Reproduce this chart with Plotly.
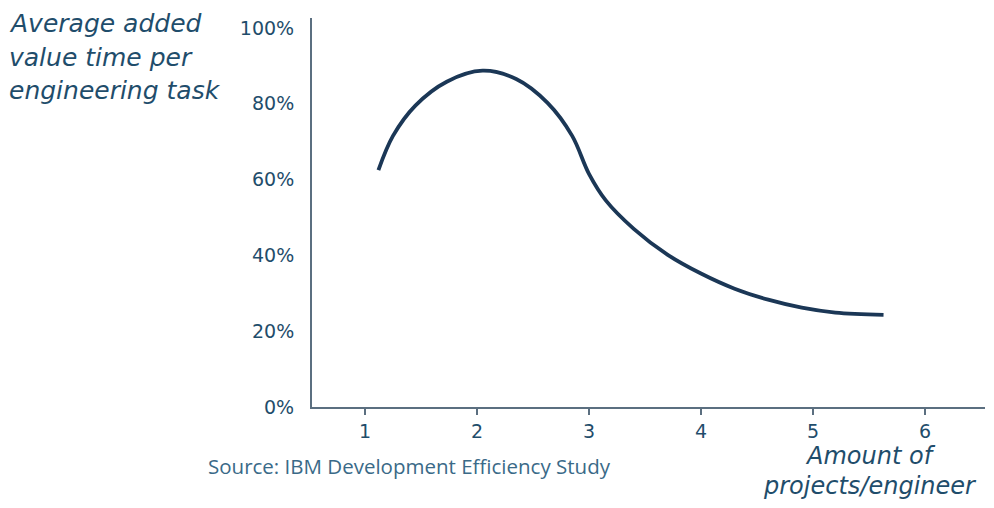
import plotly.graph_objects as go

# Data
projects = [1.12, 1.25, 1.45, 1.73, 2.05, 2.35, 2.63, 2.85, 3.00, 3.15, 3.40, 3.70,
            4.00, 4.30, 4.60, 4.90, 5.20, 5.63]
value_time = [62.5, 71.5, 79.5, 85.8, 88.7, 86.5, 80.2, 71.5, 61.5, 54.5, 47.0, 40.2,
              35.2, 31.2, 28.3, 26.2, 24.9, 24.3]
x_ticks = [1, 2, 3, 4, 5, 6]
y_ticks = [0, 20, 40, 60, 80, 100]
y_tick_labels = ["0%", "20%", "40%", "60%", "80%", "100%"]
y_title_lines = ["Average added", "value time per", "engineering task"]
x_title_lines = ["Amount of", "projects/engineer"]
source_text = "Source: IBM Development Efficiency Study"

OFF = 8  # page body margin
W, H = 994 - 2 * OFF, 508 - 2 * OFF
L = 312 - OFF
T = 18 - OFF
R = W - (985 - OFF)
B = H - (407 - OFF)
PW = W - L - R
PH = H - T - B

text_col = "#1f4d6b"
axis_col = "#5b6f80"
line_col = "#1b3756"

fig = go.Figure()
fig.add_trace(go.Scatter(
    x=projects, y=value_time, mode="lines",
    line=dict(color=line_col, width=3.8, shape="spline", smoothing=1.0),
    hoverinfo="skip", showlegend=False,
))

def px_x(p):
    return (p - OFF - L) / PW

def px_y(p):
    return 1 - (p - OFF - T) / PH

annotations = []
for txt, yc in zip(y_title_lines, [23, 57, 91]):
    annotations.append(dict(
        text="<i>" + txt + "</i>", xref="paper", yref="paper", x=px_x(7), y=px_y(yc),
        xanchor="left", yanchor="middle", showarrow=False,
        font=dict(family="DejaVu Sans", size=25, color=text_col)))
for txt, yc in zip(x_title_lines, [456, 486]):
    annotations.append(dict(
        text="<i>" + txt + "</i>", xref="paper", yref="paper", x=px_x(870), y=px_y(yc),
        xanchor="center", yanchor="middle", showarrow=False,
        font=dict(family="DejaVu Sans", size=24, color=text_col)))
annotations.append(dict(
    text=source_text, xref="paper", yref="paper", x=px_x(206), y=px_y(466),
    xanchor="left", yanchor="middle", showarrow=False,
    font=dict(family="Open Sans", size=20.5, color="#3a6a88")))

fig.update_layout(
    width=W, height=H,
    margin=dict(l=L, r=R, t=T, b=B, autoexpand=False),
    paper_bgcolor="white", plot_bgcolor="white",
    xaxis=dict(
        range=[0.527, 6.536], tickvals=x_ticks, ticktext=[str(v) for v in x_ticks],
        showgrid=False, zeroline=False, showline=True, linecolor=axis_col, linewidth=2,
        ticks="outside", ticklen=6, tickwidth=2, tickcolor=axis_col,
        tickfont=dict(family="DejaVu Sans", size=19, color=text_col),
        fixedrange=True,
    ),
    yaxis=dict(
        range=[0, 102.6], tickvals=y_ticks, ticktext=y_tick_labels,
        showgrid=False, zeroline=False, showline=True, linecolor=axis_col, linewidth=2,
        ticks="", ticklabelstandoff=12,
        tickfont=dict(family="DejaVu Sans", size=19, color=text_col),
        fixedrange=True,
    ),
    annotations=annotations,
)

fig.write_html("out.html")
